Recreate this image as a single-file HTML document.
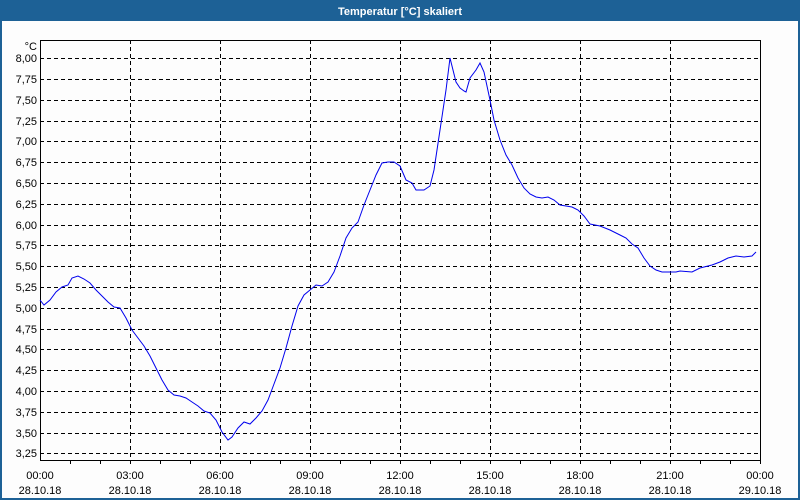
<!DOCTYPE html>
<html><head><style>
body{margin:0;background:#fff;}
</style></head><body>
<svg width="800" height="500" xmlns="http://www.w3.org/2000/svg" style="display:block;font-family:'Liberation Sans',sans-serif;font-size:11px">
<rect x="0" y="0" width="800" height="500" fill="#1d6196"/>
<rect x="2" y="21" width="796" height="477" fill="#fdfdfd"/>
<text x="400" y="15" fill="#fff" font-weight="bold" text-anchor="middle" font-size="11">Temperatur [°C] skaliert</text>
<g stroke="#000" stroke-dasharray="4,3" stroke-width="1">
<line x1="40" x2="760" y1="58.5" y2="58.5"/><line x1="40" x2="760" y1="79.5" y2="79.5"/><line x1="40" x2="760" y1="100.5" y2="100.5"/><line x1="40" x2="760" y1="121.5" y2="121.5"/><line x1="40" x2="760" y1="141.5" y2="141.5"/><line x1="40" x2="760" y1="162.5" y2="162.5"/><line x1="40" x2="760" y1="183.5" y2="183.5"/><line x1="40" x2="760" y1="204.5" y2="204.5"/><line x1="40" x2="760" y1="225.5" y2="225.5"/><line x1="40" x2="760" y1="245.5" y2="245.5"/><line x1="40" x2="760" y1="266.5" y2="266.5"/><line x1="40" x2="760" y1="287.5" y2="287.5"/><line x1="40" x2="760" y1="308.5" y2="308.5"/><line x1="40" x2="760" y1="329.5" y2="329.5"/><line x1="40" x2="760" y1="349.5" y2="349.5"/><line x1="40" x2="760" y1="370.5" y2="370.5"/><line x1="40" x2="760" y1="391.5" y2="391.5"/><line x1="40" x2="760" y1="412.5" y2="412.5"/><line x1="40" x2="760" y1="433.5" y2="433.5"/><line x1="40" x2="760" y1="453.5" y2="453.5"/>
<line x1="130.5" x2="130.5" y1="40" y2="460"/><line x1="220.5" x2="220.5" y1="40" y2="460"/><line x1="310.5" x2="310.5" y1="40" y2="460"/><line x1="400.5" x2="400.5" y1="40" y2="460"/><line x1="490.5" x2="490.5" y1="40" y2="460"/><line x1="580.5" x2="580.5" y1="40" y2="460"/><line x1="670.5" x2="670.5" y1="40" y2="460"/>
</g>
<rect x="40.5" y="40.5" width="720" height="420" fill="none" stroke="#000"/>
<g stroke="#000">
<line x1="70.5" x2="70.5" y1="460" y2="464"/><line x1="100.5" x2="100.5" y1="460" y2="464"/><line x1="130.5" x2="130.5" y1="460" y2="464"/><line x1="160.5" x2="160.5" y1="460" y2="464"/><line x1="190.5" x2="190.5" y1="460" y2="464"/><line x1="220.5" x2="220.5" y1="460" y2="464"/><line x1="250.5" x2="250.5" y1="460" y2="464"/><line x1="280.5" x2="280.5" y1="460" y2="464"/><line x1="310.5" x2="310.5" y1="460" y2="464"/><line x1="340.5" x2="340.5" y1="460" y2="464"/><line x1="370.5" x2="370.5" y1="460" y2="464"/><line x1="400.5" x2="400.5" y1="460" y2="464"/><line x1="430.5" x2="430.5" y1="460" y2="464"/><line x1="460.5" x2="460.5" y1="460" y2="464"/><line x1="490.5" x2="490.5" y1="460" y2="464"/><line x1="520.5" x2="520.5" y1="460" y2="464"/><line x1="550.5" x2="550.5" y1="460" y2="464"/><line x1="580.5" x2="580.5" y1="460" y2="464"/><line x1="610.5" x2="610.5" y1="460" y2="464"/><line x1="640.5" x2="640.5" y1="460" y2="464"/><line x1="670.5" x2="670.5" y1="460" y2="464"/><line x1="700.5" x2="700.5" y1="460" y2="464"/><line x1="730.5" x2="730.5" y1="460" y2="464"/><line x1="760.5" x2="760.5" y1="460" y2="464"/>
</g>
<g text-anchor="end" fill="#000">
<text x="37" y="50">°C</text>
<text x="37" y="62">8,00</text><text x="37" y="83">7,75</text><text x="37" y="104">7,50</text><text x="37" y="125">7,25</text><text x="37" y="145">7,00</text><text x="37" y="166">6,75</text><text x="37" y="187">6,50</text><text x="37" y="208">6,25</text><text x="37" y="229">6,00</text><text x="37" y="249">5,75</text><text x="37" y="270">5,50</text><text x="37" y="291">5,25</text><text x="37" y="312">5,00</text><text x="37" y="333">4,75</text><text x="37" y="353">4,50</text><text x="37" y="374">4,25</text><text x="37" y="395">4,00</text><text x="37" y="416">3,75</text><text x="37" y="437">3,50</text><text x="37" y="457">3,25</text>
</g>
<g text-anchor="middle" fill="#000">
<text x="40" y="479">00:00</text><text x="40" y="494">28.10.18</text>
<text x="130" y="479">03:00</text><text x="130" y="494">28.10.18</text>
<text x="220" y="479">06:00</text><text x="220" y="494">28.10.18</text>
<text x="310" y="479">09:00</text><text x="310" y="494">28.10.18</text>
<text x="400" y="479">12:00</text><text x="400" y="494">28.10.18</text>
<text x="490" y="479">15:00</text><text x="490" y="494">28.10.18</text>
<text x="580" y="479">18:00</text><text x="580" y="494">28.10.18</text>
<text x="670" y="479">21:00</text><text x="670" y="494">28.10.18</text>
<text x="760" y="479">00:00</text><text x="760" y="494">29.10.18</text>
</g>
<polyline fill="none" stroke="#0000ee" stroke-width="1" points="40,300 44,305 50,300 56,292 62,287 68,285 72,278 78,276 84,279 90,283 96,290 102,296 108,302 114,307 120,308 126,318 132,330 138,338 144,346 150,356 156,368 162,380 168,390 174,395 180,396 186,398 192,402 198,406 204,411 210,413 216,420 222,432 228,440 232,437 238,428 244,422 250,424 256,418 262,411 268,400 274,384 280,368 286,348 292,326 298,306 304,295 310,290 316,285 322,286 328,282 334,272 340,256 346,238 352,228 358,222 364,205 370,190 376,175 382,163 388,162 394,162 400,166 406,180 412,183 416,190 424,190 430,186 434,170 440,130 446,90 450,58 456,82 460,88 464,91 466,92 470,78 476,70 480,63 484,72 490,100 494,120 500,140 506,155 512,165 518,178 524,188 530,194 536,197 542,198 548,197 554,200 560,205 566,206 572,207 578,210 584,216 590,224 600,226 610,230 620,235 626,238 632,244 638,248 644,258 650,266 656,270 662,272 676,272 680,271 692,272 700,268 712,265 720,262 728,258 736,256 744,257 752,256 756,252"/>
</svg>
</body></html>
